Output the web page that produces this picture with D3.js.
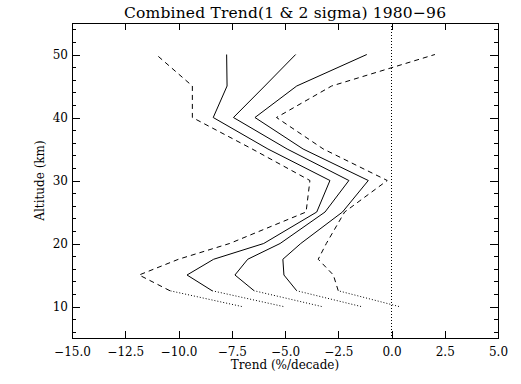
<!DOCTYPE html>
<html>
<head>
<meta charset="utf-8">
<script src="https://cdn.jsdelivr.net/npm/d3@7/dist/d3.min.js"></script>
<style>
  body { margin: 0; background: #fff; }
  svg { display: block; }
  text { font-family: "DejaVu Serif", serif; fill: #000; }
</style>
</head>
<body>
<svg id="chart"></svg>
<script>
// Altitude levels (km)
const altitude = [10, 12.5, 15, 17.5, 20, 25, 30, 35, 40, 45, 50];

// Trend (%/decade) at each altitude
const minus2Sigma = [-7.03, -10.4, -11.85, -10.0, -7.6, -4.01, -3.83, -6.54, -9.35, -9.35, -11.05];
const minus1Sigma = [-5.08, -8.42, -9.6, -8.35, -6.0, -3.51, -2.89, -5.8, -8.37, -7.72, -7.74];
const trend = [-3.28, -6.45, -7.35, -6.75, -5.23, -3.12, -2.0, -4.9, -7.42, -5.95, -4.5];
const plus1Sigma = [-1.43, -4.45, -5.05, -5.1, -4.26, -2.3, -1.09, -4.15, -6.41, -4.45, -1.16];
const plus2Sigma = [0.35, -2.5, -2.73, -3.44, -3.06, -2.2, -0.2, -3.2, -5.4, -2.81, 2.04];

const xTicks = [-15, -12.5, -10, -7.5, -5, -2.5, 0, 2.5, 5];
const yTicks = [10, 20, 30, 40, 50];
const yMinorTicks = [6, 8, 12, 14, 16, 18, 22, 24, 26, 28, 32, 34, 36, 38, 42, 44, 46, 48, 52, 54];

const series = [
  { values: minus2Sigma, dash: '5,4' },
  { values: minus1Sigma, dash: null },
  { values: trend, dash: null },
  { values: plus1Sigma, dash: null },
  { values: plus2Sigma, dash: '5,4' }
];

let containerWidth = 521,
    containerHeight = 384;
let margin = { top: 23, right: 23, bottom: 46, left: 72 };
let width = containerWidth - margin.left - margin.right,
    height = containerHeight - margin.top - margin.bottom;

let svg = d3.select('#chart')
  .attr('width', containerWidth)
  .attr('height', containerHeight);

let chart = svg.append('g')
  .attr('transform', `translate(${margin.left}, ${margin.top})`);

let x = d3.scaleLinear()
  .domain([-15, 5])
  .range([0, width]);

let y = d3.scaleLinear()
  .domain([5, 55])
  .range([height, 0]);

// Frame
chart.append('rect')
  .attr('x', 0)
  .attr('y', 0)
  .attr('width', width)
  .attr('height', height)
  .attr('fill', 'none')
  .attr('stroke', '#000')
  .attr('shape-rendering', 'crispEdges');

function styleAxis(g) {
  g.select('.domain').remove();
  g.selectAll('line')
    .attr('stroke', '#000')
    .attr('shape-rendering', 'crispEdges');
  g.selectAll('text')
    .attr('font-family', '"DejaVu Serif", serif')
    .attr('font-size', 12)
    .attr('fill', '#000');
}

// X Axis
chart.append('g')
  .attr('transform', `translate(0, ${height})`)
  .call(d3.axisBottom(x).tickValues(xTicks).tickFormat(d3.format('.1f'))
    .tickSize(-7).tickPadding(9))
  .call(styleAxis);

chart.append('g')
  .call(d3.axisTop(x).tickValues(xTicks).tickFormat('').tickSize(-7))
  .call(styleAxis);

// Y Axis left
chart.append('g')
  .call(d3.axisLeft(y).tickValues(yTicks).tickFormat(d3.format('d'))
    .tickSize(-8).tickPadding(4))
  .call(styleAxis);

chart.append('g')
  .call(d3.axisLeft(y).tickValues(yMinorTicks).tickFormat('').tickSize(-4))
  .call(styleAxis);

// Y Axis right
chart.append('g')
  .attr('transform', `translate(${width}, 0)`)
  .call(d3.axisRight(y).tickValues(yTicks).tickFormat('').tickSize(-8))
  .call(styleAxis);

chart.append('g')
  .attr('transform', `translate(${width}, 0)`)
  .call(d3.axisRight(y).tickValues(yMinorTicks).tickFormat('').tickSize(-4))
  .call(styleAxis);

// Zero line
chart.append('line')
  .attr('x1', x(0))
  .attr('x2', x(0))
  .attr('y1', 0)
  .attr('y2', height)
  .attr('stroke', '#000')
  .attr('stroke-dasharray', '1,2')
  .attr('shape-rendering', 'crispEdges');

// Profiles
let line = d3.line()
  .x((d) => x(d.v))
  .y((d) => y(d.alt));

let profiles = chart.append('g')
  .attr('class', 'profiles');

series.forEach((s) => {
  let points = altitude.map((alt, i) => ({ alt: alt, v: s.values[i] }));

  // below 12.5 km dotted
  profiles.append('path')
    .datum(points.slice(0, 2))
    .attr('fill', 'none')
    .attr('stroke', '#000')
    .attr('stroke-width', 1)
    .attr('stroke-dasharray', '1,2')
    .attr('d', line);

  profiles.append('path')
    .datum(points.slice(1))
    .attr('fill', 'none')
    .attr('stroke', '#000')
    .attr('stroke-width', 1)
    .attr('stroke-dasharray', s.dash)
    .attr('stroke-linejoin', 'miter')
    .attr('d', line);
});

// Titles
svg.append('text')
  .attr('x', margin.left + width / 2)
  .attr('y', 18)
  .attr('text-anchor', 'middle')
  .attr('font-size', 15.5)
  .attr('textLength', 322)
  .text('Combined Trend(1 & 2 sigma) 1980\u221296');

svg.append('text')
  .attr('x', margin.left + width / 2)
  .attr('y', 369)
  .attr('text-anchor', 'middle')
  .attr('font-size', 12)
  .text('Trend (%/decade)');

svg.append('text')
  .attr('transform', `translate(44, ${margin.top + height / 2}) rotate(-90)`)
  .attr('text-anchor', 'middle')
  .attr('font-size', 12)
  .text('Altitude (km)');
</script>
</body>
</html>
